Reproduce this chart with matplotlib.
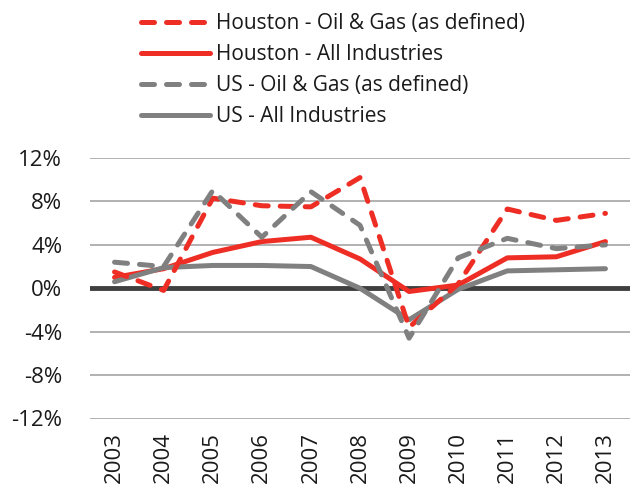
import matplotlib
matplotlib.use("Agg")
import matplotlib.pyplot as plt
from matplotlib.ticker import FuncFormatter

years = ["2003", "2004", "2005", "2006", "2007", "2008", "2009", "2010", "2011", "2012", "2013"]
houston_og = [1.5, -0.2, 8.3, 7.6, 7.5, 10.2, -3.6, 0.4, 7.3, 6.25, 6.9]
houston_all = [1.0, 1.8, 3.3, 4.3, 4.7, 2.7, -0.3, 0.3, 2.8, 2.9, 4.3]
us_og = [2.4, 2.0, 9.0, 4.7, 8.9, 5.8, -4.6, 2.8, 4.6, 3.65, 4.0]
us_all = [0.6, 1.9, 2.1, 2.1, 2.0, 0.0, -2.9, -0.1, 1.6, 1.7, 1.8]
yticks = [-12, -8, -4, 0, 4, 8, 12]

RED = "#EE2E24"
GRAY = "#808080"

plt.rcParams['font.family'] = ['Open Sans', 'DejaVu Sans']

fig = plt.figure(figsize=(6.31, 4.91), dpi=100)
ax = fig.add_axes([90/631, 1-418.5/491, 540/631, (418.5-158)/491])

x = list(range(len(years)))
lw = 3.6
dash = (0, (2.6, 2.4))
l1, = ax.plot(x, houston_og, color=RED, lw=lw, ls=dash, dash_capstyle='round', label="Houston - Oil & Gas (as defined)", zorder=4)
l2, = ax.plot(x, houston_all, color=RED, lw=lw, solid_capstyle='round', label="Houston - All Industries", zorder=3)
l3, = ax.plot(x, us_og, color=GRAY, lw=lw, ls=dash, dash_capstyle='round', label="US - Oil & Gas (as defined)", zorder=4)
l4, = ax.plot(x, us_all, color=GRAY, lw=lw, solid_capstyle='round', label="US - All Industries", zorder=3)

ax.set_xlim(-0.5, len(years) - 0.5)
ax.set_ylim(-12, 12)
ax.set_yticks(yticks)
ax.yaxis.set_major_formatter(FuncFormatter(lambda v, p: f"{int(v)}%"))
ax.set_xticks(x)
ax.set_xticklabels(years, rotation=90)
ax.tick_params(axis='both', length=0, labelsize=16, colors='#1a1a1a')
ax.tick_params(axis='y', pad=20)
ax.tick_params(axis='x', pad=10)
for t in yticks:
    if t != 0:
        ax.axhline(t, color='#ABABAB', lw=1.3, zorder=1)
ax.axhline(0, color='#3F3F3F', lw=3.5, zorder=2)
for s in ax.spines.values():
    s.set_visible(False)

leg = fig.legend(handles=[l1, l2, l3, l4], loc='upper left', bbox_to_anchor=(133/631, 1 - 5/491),
                 frameon=False, fontsize=15, handlelength=3.3, handletextpad=0.3,
                 labelspacing=0.48, borderaxespad=0)
for t in leg.get_texts():
    t.set_color('#1a1a1a')

fig.savefig("out.png", dpi=100)
